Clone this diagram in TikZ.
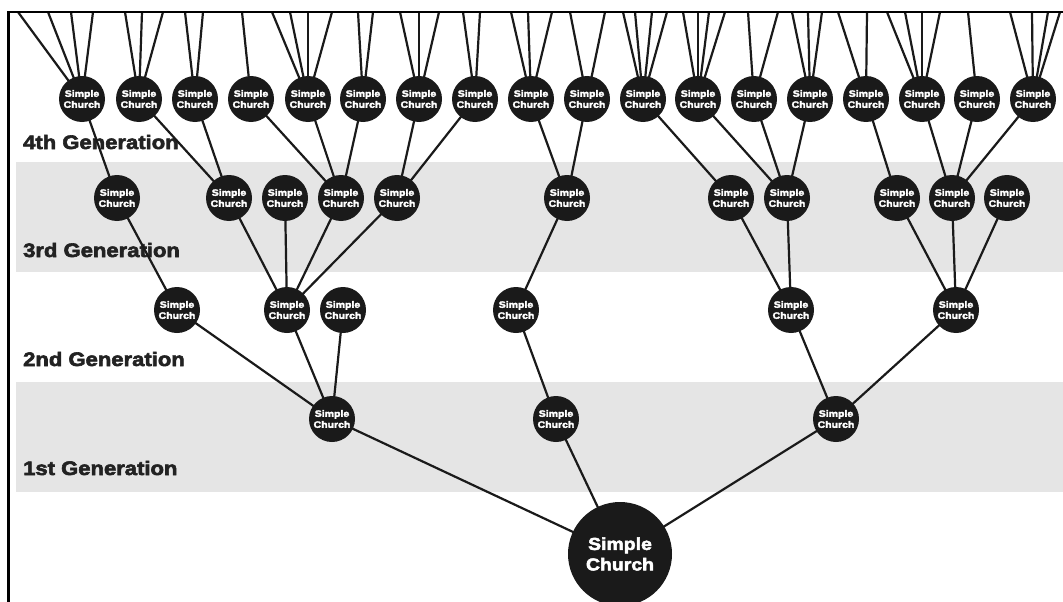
\documentclass[tikz,border=0pt]{standalone}
\usepackage{fontspec}
\newfontfamily\heavyfont{Liberation Sans}[FakeStretch=1.13, BoldFeatures={FakeBold=3}]
\definecolor{nodeblack}{HTML}{1A1A1A}
\definecolor{linegray}{HTML}{1A1A1A}
\definecolor{bandgray}{HTML}{E5E5E5}
\definecolor{labelblack}{HTML}{222222}
\pgfdeclarelayer{bg}
\pgfdeclarelayer{edges}
\pgfsetlayers{bg,edges,main}
\begin{document}
\begin{tikzpicture}[x=1pt,y=-1pt,
  church/.style={circle, fill=nodeblack, minimum size=46pt, inner sep=0pt, text=white, align=center,
    font=\heavyfont\bfseries\fontsize{9.3}{11}\selectfont},
  rootchurch/.style={church, minimum size=104pt, font=\heavyfont\bfseries\fontsize{17.2}{20.5}\selectfont},
  link/.style={draw=linegray, line width=2.2pt},
  band/.style={fill=bandgray, draw=none},
  genlabel/.style={anchor=base west, inner sep=0pt, text=labelblack,
    font=\heavyfont\bfseries\fontsize{19.5}{22}\selectfont},
  framev/.style={draw=black, line width=2.5pt},
  frameh/.style={draw=black, line width=1.5pt}
]
\useasboundingbox (0,0) rectangle (1063,602);
\clip (0,0) rectangle (1063,602);

% background bands and labels
\begin{pgfonlayer}{bg}
  \fill[band] (15.5,162) rectangle (1063,272);
  \fill[band] (15.5,382) rectangle (1063,492);
  \node[genlabel] (l4) at (23,149) {4th Generation};
  \node[genlabel] (l3) at (23,257) {3rd Generation};
  \node[genlabel] (l2) at (23,366) {2nd Generation};
  \node[genlabel] (l1) at (23,475) {1st Generation};
\end{pgfonlayer}

% root
\node[rootchurch] (root) at (620,554) {Simple\\Church};

% 1st generation
\node[church] (a) at (332,419) {Simple\\Church};
\node[church] (b) at (556,419) {Simple\\Church};
\node[church] (c) at (836,419) {Simple\\Church};

% 2nd generation
\node[church] (d) at (177,310) {Simple\\Church};
\node[church] (e) at (287,310) {Simple\\Church};
\node[church] (f) at (343,310) {Simple\\Church};
\node[church] (g) at (516,310) {Simple\\Church};
\node[church] (h) at (791,310) {Simple\\Church};
\node[church] (i) at (956,310) {Simple\\Church};

% 3rd generation
\foreach \x [count=\k from 0] in {117,229,285,341,397,567,731,787,897,952,1007}
  \node[church] (m\k) at (\x,198) {Simple\\Church};

% 4th generation
\foreach \x [count=\k from 0] in {82,139,195,251,308,363,419,475,531,587,643,698,754,810,866,922,977,1033}
  \node[church] (n\k) at (\x,99) {Simple\\Church};

\begin{pgfonlayer}{edges}
  % root to 1st
  \foreach \p in {a,b,c} \draw[link] (root.center) -- (\p.center);
  % 1st to 2nd
  \foreach \p/\q in {a/d,a/e,a/f,b/g,c/h,c/i} \draw[link] (\p.center) -- (\q.center);
  % 2nd to 3rd
  \foreach \p/\q in {d/0,e/1,e/2,e/3,e/4,g/5,h/6,h/7,i/8,i/9,i/10}
    \draw[link] (\p.center) -- (m\q.center);
  % 3rd to 4th
  \foreach \p/\q in {0/0,1/1,1/2,3/3,3/4,3/5,4/6,4/7,5/8,5/9,6/10,7/11,7/12,7/13,8/14,9/15,9/16,9/17}
    \draw[link] (m\p.center) -- (n\q.center);
  % 4th generation to the top edge
  \foreach \n/\x in {0/18,0/48,0/71,0/93,
                     1/125,1/142,1/163,
                     2/185,2/203,
                     3/242,
                     4/272,4/290,4/308,4/332,
                     5/358,5/373,
                     6/400,6/419,6/439,
                     7/463,7/480,
                     8/511,8/528,8/552,
                     9/570,9/605,
                     10/623,10/635,10/652,10/667,
                     11/683,11/698,11/709,11/725,
                     12/748,12/778,
                     13/792,13/808,13/822,
                     14/838,14/867,
                     15/887,15/905,15/922,15/940,
                     16/968,
                     17/1010,17/1032,17/1048,17/1060}
  {
    \coordinate (top-\n-\x) at (\x,12);
    \draw[link] (n\n.center) -- (top-\n-\x);
  }
\end{pgfonlayer}

% frame
\coordinate (fl-top) at (8.5,11.25);
\coordinate (fl-bot) at (8.5,602);
\coordinate (ft-right) at (1063,12);
\draw[framev] (fl-top) -- (fl-bot);
\draw[frameh] (7.25,12) coordinate (ft-left) -- (ft-right);
\end{tikzpicture}
\end{document}
